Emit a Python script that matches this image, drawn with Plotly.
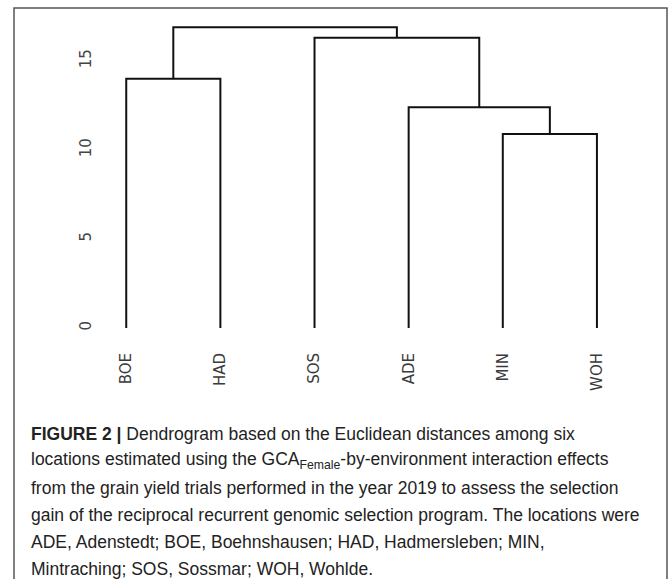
import plotly.graph_objects as go

# Leaf order along the x axis and the agglomeration steps (Euclidean distance)
leaves = ["BOE", "HAD", "SOS", "ADE", "MIN", "WOH"]
merge_left = ["BOE", "MIN", "ADE", "SOS", "C1"]
merge_right = ["HAD", "WOH", "C2", "C3", "C4"]
merge_height = [14.0, 10.9, 12.4, 16.3, 16.9]
y_ticks = [0, 5, 10, 15]

caption_lines = [
    "<b>FIGURE 2 |</b> Dendrogram based on the Euclidean distances among six",
    "locations estimated using the GCA<sub>Female</sub>-by-environment interaction effects",
    "from the grain yield trials performed in the year 2019 to assess the selection",
    "gain of the reciprocal recurrent genomic selection program. The locations were",
    "ADE, Adenstedt; BOE, Boehnshausen; HAD, Hadmersleben; MIN,",
    "Mintraching; SOS, Sossmar; WOH, Wohlde.",
]

# Node positions: leaves sit at 1..n, clusters at the midpoint of their children
pos = {name: (i + 1, 0.0) for i, name in enumerate(leaves)}
xs, ys = [], []
for k, (a, b, h) in enumerate(zip(merge_left, merge_right, merge_height)):
    xa, ha = pos[a]
    xb, hb = pos[b]
    xs += [xa, xa, xb, xb, None]
    ys += [ha, h, h, hb, None]
    pos[f"C{k + 1}"] = ((xa + xb) / 2, h)

fig = go.Figure()
fig.add_trace(go.Scatter(
    x=xs, y=ys, mode="lines",
    line=dict(color="#111111", width=2),
    hoverinfo="skip", showlegend=False,
))

fig.update_xaxes(
    range=[0.7, 6.5],
    tickmode="array",
    tickvals=list(range(1, len(leaves) + 1)),
    ticktext=leaves,
    tickangle=-90,
    showgrid=False, zeroline=False, showline=False, ticks="",
    ticklabelstandoff=4,
    tickfont=dict(family="DejaVu Sans", size=15, color="#3a3a3a"),
)
fig.update_yaxes(
    range=[-0.955, 17.245],
    tickmode="array",
    tickvals=y_ticks,
    tickangle=-90,
    showgrid=False, zeroline=False, showline=False, ticks="",
    ticklabelstandoff=3,
    tickfont=dict(family="DejaVu Sans", size=15, color="#444444"),
)

L, R, T, B = 98, 26, 21, 234
W, H = 670, 579
pw, ph = W - L - R, H - T - B


def px_x(p):
    return (p - L) / pw


def px_y(p):
    return (H - B - p) / ph


# Frame around the figure and its caption
fig.add_shape(
    type="rect", xref="paper", yref="paper",
    x0=px_x(14), x1=px_x(667), y0=px_y(590), y1=px_y(8),
    line=dict(color="#555555", width=1.5),
)

cap_y0, cap_dy = 434, 26.9
for i, line in enumerate(caption_lines):
    fig.add_annotation(
        text=line, xref="paper", yref="paper",
        x=px_x(29), y=px_y(cap_y0 + i * cap_dy),
        xanchor="left", yanchor="middle", showarrow=False, align="left",
        font=dict(family="Liberation Sans", size=17.5, color="#222222"),
    )

fig.update_layout(
    width=W, height=H,
    margin=dict(l=L, r=R, t=T, b=B),
    paper_bgcolor="white", plot_bgcolor="white",
)

fig.write_html("out.html")
